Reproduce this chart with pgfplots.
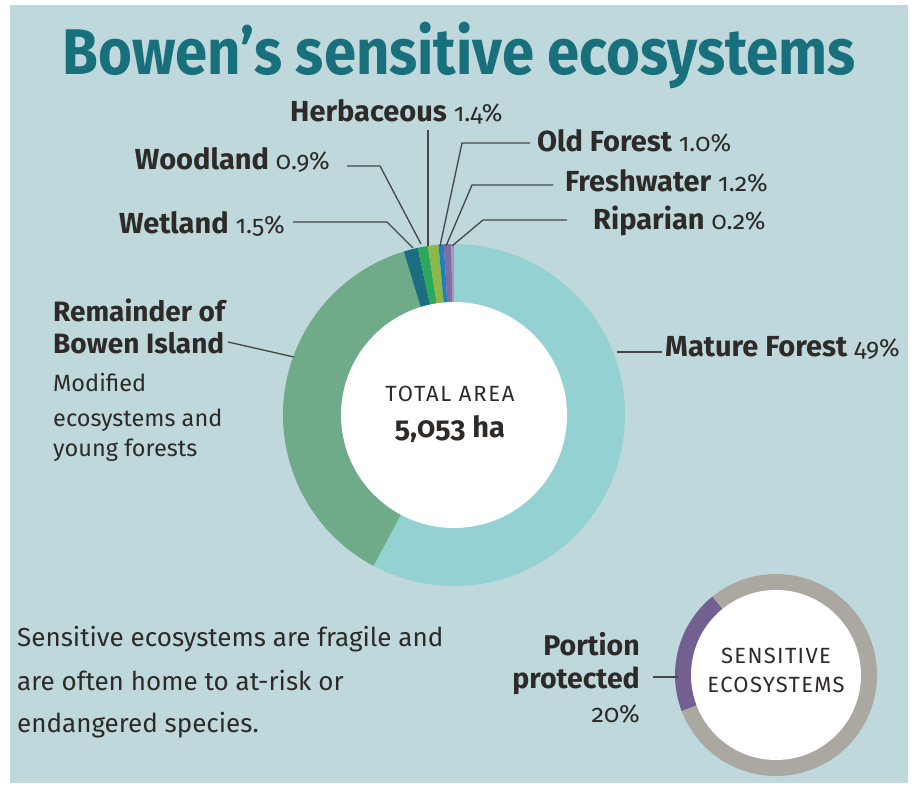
\documentclass[border=0pt]{standalone}
\usepackage{pgfplots}
\pgfplotsset{compat=1.18}
\usepackage{pgfplotstable}
\usepackage{fontspec}
\setmainfont{Fira Sans}[RawFeature=+onum]
\newfontfamily\titlefont{Fira Sans}[FakeStretch=0.9]

\definecolor{panel}{RGB}{190,216,219}
\definecolor{titlecol}{RGB}{24,112,125}
\definecolor{txt}{RGB}{45,42,40}
\definecolor{lead}{RGB}{70,70,70}
% main donut slices, clockwise from the top
\definecolor{slice0}{RGB}{148,209,210}
\definecolor{slice1}{RGB}{111,170,137}
\definecolor{slice2}{RGB}{26,110,128}
\definecolor{slice3}{RGB}{43,168,92}
\definecolor{slice4}{RGB}{140,184,74}
\definecolor{slice5}{RGB}{30,128,190}
\definecolor{slice6}{RGB}{128,110,160}
\definecolor{slice7}{RGB}{170,150,195}
% small donut
\definecolor{ring0}{RGB}{115,96,145}
\definecolor{ring1}{RGB}{170,168,160}

% share of the ring as drawn (percent)
\pgfplotstableread{
name value
Mature 57.8
Remainder 37.45
Wetland 1.35
Woodland 0.95
Herbaceous 1.0
OldForest 0.5
Freshwater 0.7
Riparian 0.25
}\piedata

\pgfplotstableread{
name value
Protected 20
Other 80
}\protdata

\newcommand\lab[2]{\fontsize{29}{32}\selectfont\bfseries #1\ \fontsize{25}{30}\selectfont\mdseries #2}

\begin{document}
\begin{tikzpicture}
\begin{axis}[x=1pt, y=1pt, xmin=0, xmax=920, ymin=0, ymax=787,
  scale only axis, hide axis, clip=false]
\fill[white] (axis cs:0,0) rectangle (axis cs:920,787);
\fill[panel] (axis cs:10,4) rectangle (axis cs:908,782);

% main donut
\xdef\angacc{90}
\pgfplotsforeachungrouped \i in {0,...,7}{
  \pgfplotstablegetelem{\i}{value}\of\piedata
  \pgfmathsetmacro\angEnd{\angacc-3.6*\pgfplotsretval}
  \edef\temp{\noexpand\fill[slice\i] (axis cs:454,372) -- ([shift={(\angacc:171pt)}]axis cs:454,372) arc[start angle=\angacc, end angle=\angEnd, radius=171pt] -- cycle;}
  \temp
  \xdef\angacc{\angEnd}
}
\fill[white] (axis cs:454,372) circle[radius=113pt];

% small donut
\xdef\angacc{129}
\pgfplotsforeachungrouped \i in {0,1}{
  \pgfplotstablegetelem{\i}{value}\of\protdata
  \pgfmathsetmacro\angEnd{\angacc+3.6*\pgfplotsretval}
  \edef\temp{\noexpand\fill[ring\i] (axis cs:776,112) -- ([shift={(\angacc:101pt)}]axis cs:776,112) arc[start angle=\angacc, end angle=\angEnd, radius=101pt] -- cycle;}
  \temp
  \xdef\angacc{\angEnd}
}
\fill[white] (axis cs:776,112) circle[radius=85pt];

% title
\node[anchor=base, text=titlecol, font=\titlefont\fontsize{64.5}{70}\selectfont\bfseries] at (axis cs:459,712) {Bowen’s sensitive ecosystems};

% leader lines
\draw[lead, line width=1.3pt] (axis cs:428,657) -- (axis cs:428,541);
\draw[lead, line width=1.3pt] (axis cs:347,621) -- (axis cs:380,621) -- (axis cs:421,543);
\draw[lead, line width=1.3pt] (axis cs:293,565) -- (axis cs:387,565) -- (axis cs:413,539);
\draw[lead, line width=1.3pt] (axis cs:530,644) -- (axis cs:462,644) -- (axis cs:440,541);
\draw[lead, line width=1.3pt] (axis cs:553,602) -- (axis cs:472,602) -- (axis cs:446,541);
\draw[lead, line width=1.3pt] (axis cs:567,567) -- (axis cs:483,567) -- (axis cs:452,541);
\draw[lead, line width=1.3pt] (axis cs:617,435) -- (axis cs:662,435);
\draw[lead, line width=1.3pt] (axis cs:228,445) -- (axis cs:294,430);
\draw[lead, line width=1.3pt] (axis cs:653,110) -- (axis cs:678,110);

% slice labels
\node[anchor=base west, text=txt, inner sep=0] at (axis cs:290,665) {\lab{Herbaceous}{1.4\%}};
\node[anchor=base east, text=txt, inner sep=0] at (axis cs:330,617) {\lab{Woodland}{0.9\%}};
\node[anchor=base east, text=txt, inner sep=0] at (axis cs:285,553) {\lab{Wetland}{1.5\%}};
\node[anchor=base west, text=txt, inner sep=0] at (axis cs:537,635) {\lab{Old Forest}{1.0\%}};
\node[anchor=base west, text=txt, inner sep=0] at (axis cs:565,595) {\lab{Freshwater}{1.2\%}};
\node[anchor=base west, text=txt, inner sep=0] at (axis cs:593,557) {\lab{Riparian}{0.2\%}};
\node[anchor=base west, text=txt, inner sep=0] at (axis cs:665,430) {\lab{Mature Forest}{49\%}};

\node[anchor=base west, text=txt, inner sep=0, font=\fontsize{28}{30}\selectfont\bfseries] at (axis cs:53,465) {Remainder of};
\node[anchor=base west, text=txt, inner sep=0, font=\fontsize{28}{30}\selectfont\bfseries] at (axis cs:53,433) {Bowen Island};
\node[anchor=base west, text=txt, inner sep=0, font=\fontsize{23.5}{30}\selectfont] at (axis cs:53,395) {Modified};
\node[anchor=base west, text=txt, inner sep=0, font=\fontsize{23.5}{30}\selectfont] at (axis cs:53,360) {ecosystems and};
\node[anchor=base west, text=txt, inner sep=0, font=\fontsize{23.5}{30}\selectfont] at (axis cs:53,330) {young forests};

% centre of main donut
\node[anchor=base, text=txt, inner sep=0, font=\fontsize{22}{25}\selectfont\addfontfeatures{LetterSpace=8}] at (axis cs:450,385) {TOTAL AREA};
\node[anchor=base, text=txt, inner sep=0, font=\fontsize{29}{32}\selectfont\bfseries] at (axis cs:450,349) {5,053 ha};

% bottom text
\node[anchor=base west, text=txt, inner sep=0, font=\fontsize{26}{32}\selectfont] at (axis cs:17,140) {Sensitive ecosystems are fragile and};
\node[anchor=base west, text=txt, inner sep=0, font=\fontsize{26}{32}\selectfont] at (axis cs:17,97) {are often home to at-risk or};
\node[anchor=base west, text=txt, inner sep=0, font=\fontsize{26}{32}\selectfont] at (axis cs:17,55) {endangered species.};

% portion protected
\node[anchor=base east, text=txt, inner sep=0, font=\fontsize{28.5}{30}\selectfont\bfseries] at (axis cs:640,131) {Portion};
\node[anchor=base east, text=txt, inner sep=0, font=\fontsize{28.5}{30}\selectfont\bfseries] at (axis cs:640,99) {protected};
\node[anchor=base east, text=txt, inner sep=0, font=\fontsize{25}{30}\selectfont] at (axis cs:640,65) {20\%};
\node[anchor=base, text=txt, inner sep=0, font=\fontsize{22}{25}\selectfont\addfontfeatures{LetterSpace=6}] at (axis cs:776,124) {SENSITIVE};
\node[anchor=base, text=txt, inner sep=0, font=\fontsize{22}{25}\selectfont\addfontfeatures{LetterSpace=6}] at (axis cs:776,95) {ECOSYSTEMS};
\end{axis}
\end{tikzpicture}
\end{document}
